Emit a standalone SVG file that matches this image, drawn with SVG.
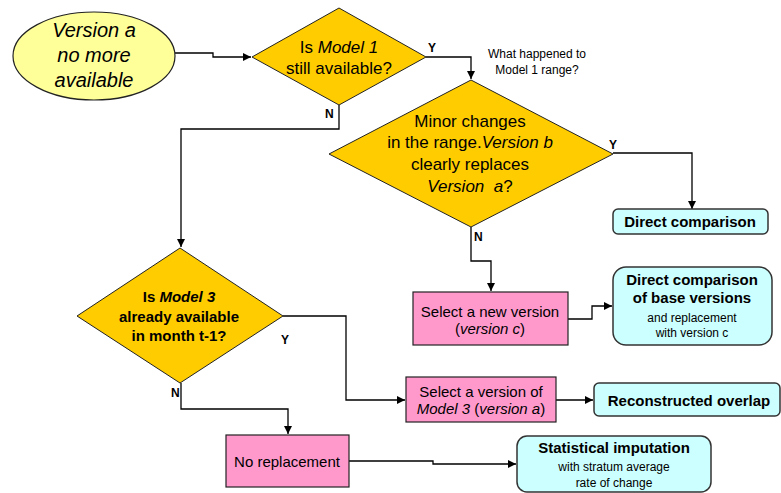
<svg xmlns="http://www.w3.org/2000/svg" width="781" height="493" viewBox="0 0 781 493">
<defs>
<marker id="ah" viewBox="0 0 10 10" refX="10" refY="5" markerWidth="8" markerHeight="8" markerUnits="userSpaceOnUse" orient="auto"><path d="M0,0 L10,5 L0,10 z" fill="#000"/></marker>
<style>
text{font-family:"Liberation Sans",Arial,sans-serif;fill:#000;text-anchor:middle}
.dia{fill:#FFCC00;stroke:#222;stroke-width:1}
.pink{fill:#FF99CC;stroke:#222;stroke-width:1.2}
.cyan{fill:#CCFFFF;stroke:#333;stroke-width:1.5}
.c{fill:none;stroke:#000;stroke-width:1.3;marker-end:url(#ah)}
.l{fill:none;stroke:#000;stroke-width:1.3}
.lab{font-size:12px;font-weight:bold;text-anchor:start}
.b{font-weight:bold}
.i{font-style:italic}
</style>
</defs>
<rect width="781" height="493" fill="#fff"/>
<g id="connectors">
<path class="c" d="M175,53 H213 V57 H251"/>
<path class="c" d="M426,57 H471 V79"/>
<path class="c" d="M613,153 H692 V209"/>
<path class="c" d="M471,227 V261 H491 V291"/>
<path class="c" d="M339,105 V129 H181 V247"/>
<path class="c" d="M568,319 H592 V306 H612"/>
<path class="c" d="M283,316 H346 V400 H405"/>
<path class="c" d="M556,400 H593"/>
<path class="c" d="M181,383 V409 H288 V434"/>
<path class="c" d="M349,461 H433 V464 H516"/>
<text class="lab" x="428" y="52">Y</text>
<text class="lab" x="325" y="118">N</text>
<text class="lab" x="609" y="149">Y</text>
<text class="lab" x="474" y="241">N</text>
<text class="lab" x="281" y="344">Y</text>
<text class="lab" x="171" y="397">N</text>
<text x="537" y="58" font-size="12">What happened to</text>
<text x="537" y="74" font-size="12">Model 1 range?</text>
</g>
<g id="start">
<ellipse cx="94" cy="56" rx="81" ry="44" fill="#FFFF99" stroke="#222" stroke-width="1.2"/>
<text class="i" x="94" y="37" font-size="20">Version a</text>
<text class="i" x="94" y="62" font-size="20">no more</text>
<text class="i" x="94" y="87" font-size="20">available</text>
</g>
<g id="q1">
<polygon class="dia" points="252,57 339,8 426,57 339,105"/>
<text x="339" y="53" font-size="17">Is <tspan class="i">Model 1</tspan></text>
<text x="339" y="74" font-size="17">still available?</text>
</g>
<g id="q2">
<polygon class="dia" points="329,154 471,80 613,154 471,227"/>
<text x="470" y="127" font-size="17">Minor changes</text>
<text x="470" y="148" font-size="17">in the range.<tspan class="i">Version b</tspan></text>
<text x="470" y="170" font-size="17">clearly replaces</text>
<text x="470" y="192" font-size="17"><tspan class="i">Version&#160; a</tspan>?</text>
</g>
<g id="direct">
<rect class="cyan" x="613" y="209" width="155" height="25" rx="5"/>
<text class="b" x="690" y="227" font-size="15">Direct comparison</text>
</g>
<g id="selnew">
<rect class="pink" x="413" y="292" width="155" height="53"/>
<text x="490" y="317" font-size="15">Select a new version</text>
<text x="490" y="334" font-size="15">(<tspan class="i">version c</tspan>)</text>
</g>
<g id="directbase">
<rect class="cyan" x="613" y="267" width="159" height="78" rx="13"/>
<text class="b" x="692" y="285" font-size="15">Direct comparison</text>
<text class="b" x="692" y="303" font-size="15">of base versions</text>
<text x="692" y="322" font-size="12">and replacement</text>
<text x="692" y="337" font-size="12">with version c</text>
</g>
<g id="q3">
<polygon class="dia" points="77,316 180,248 283,316 180,383"/>
<text class="b" x="179" y="302" font-size="15">Is <tspan class="i">Model 3</tspan></text>
<text class="b" x="179" y="322" font-size="15">already available</text>
<text class="b" x="179" y="341" font-size="15">in month t-1?</text>
</g>
<g id="selm3">
<rect class="pink" x="406" y="377" width="150" height="45"/>
<text x="481" y="397" font-size="15">Select a version of</text>
<text x="481" y="414" font-size="15"><tspan class="i">Model 3</tspan> (<tspan class="i">version a</tspan>)</text>
</g>
<g id="recon">
<rect class="cyan" x="594" y="383" width="186" height="33" rx="5"/>
<text class="b" x="689" y="406" font-size="15">Reconstructed overlap</text>
</g>
<g id="norep">
<rect class="pink" x="226" y="435" width="123" height="52"/>
<text x="287" y="467" font-size="15">No replacement</text>
</g>
<g id="stat">
<rect class="cyan" x="517" y="436" width="194" height="56" rx="10"/>
<text class="b" x="614" y="453" font-size="15">Statistical imputation</text>
<text x="614" y="471" font-size="12">with stratum average</text>
<text x="614" y="487" font-size="12">rate of change</text>
</g>
</svg>
